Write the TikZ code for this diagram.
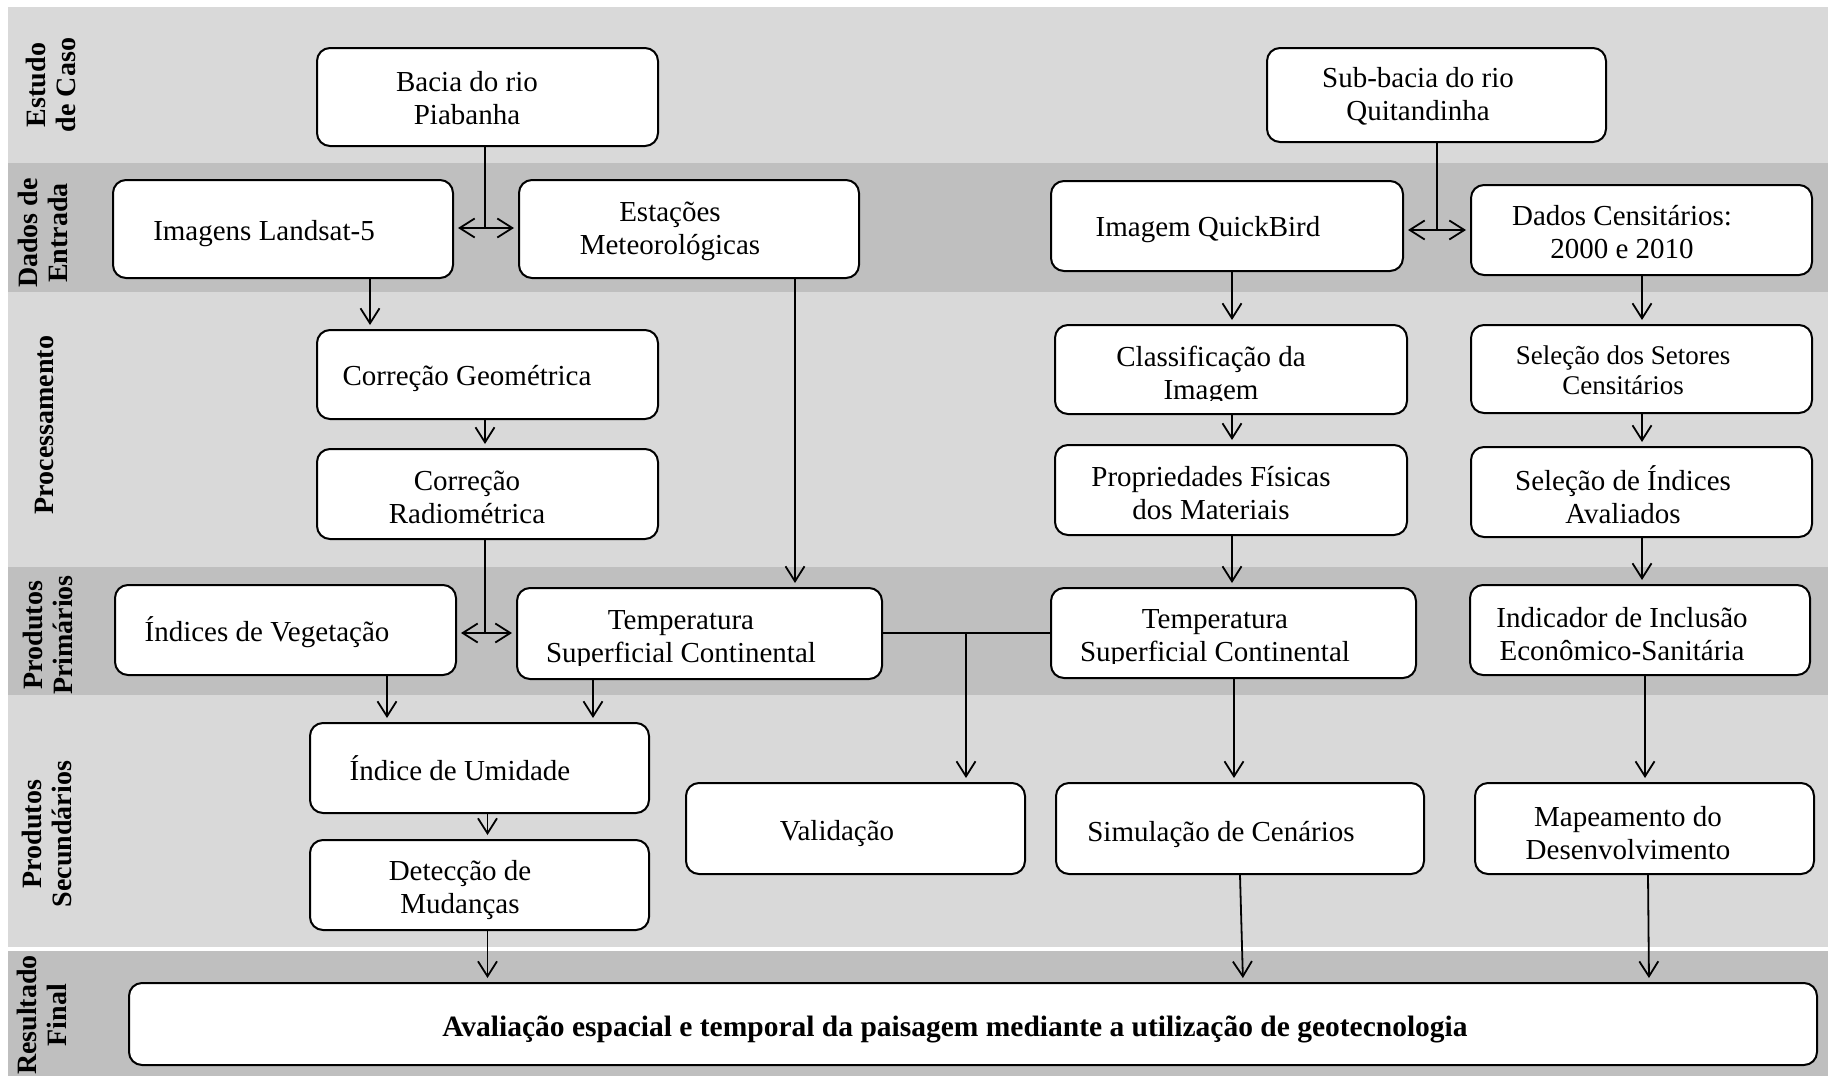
\documentclass[tikz,border=0pt]{standalone}
\usepackage{fontspec}
\setmainfont{Liberation Serif}
\usetikzlibrary{arrows.meta,fit}
\definecolor{bandlight}{HTML}{D9D9D9}
\definecolor{banddark}{HTML}{BFBFBF}
\begin{document}
\begin{tikzpicture}[x=1pt,y=-1pt,
  boxst/.style={draw, line width=2pt, rounded corners=13pt, fill=white, inner sep=0pt},
  txt/.style={align=center, font=\fontsize{29}{33}\selectfont, inner sep=0pt},
  txtsmall/.style={align=center, font=\fontsize{27}{30}\selectfont, inner sep=0pt},
  lab/.style={align=center, rotate=90, font=\fontsize{28}{30}\selectfont\bfseries, inner sep=0pt},
  conn/.style={line width=1.8pt},
  arr/.style={conn, -{Straight Barb[length=15pt,width=19pt]}, shorten >=4pt}
]
\useasboundingbox (0,0) rectangle (1828,1076);
% bands
\fill[white] (0,0) rectangle (1828,1076);
\fill[bandlight] (8,7) rectangle (1828,163);
\fill[banddark] (8,163) rectangle (1828,292);
\fill[bandlight] (8,292) rectangle (1828,567);
\fill[banddark] (8,567) rectangle (1828,695);
\fill[bandlight] (8,695) rectangle (1828,947);
\fill[banddark] (8,951) rectangle (1828,1076);

% band labels
\node[lab] (l1) at (51,85) {Estudo\\de Caso};
\node[lab] (l2) at (43,233) {Dados de\\Entrada};
\node[lab] (l3) at (44,425) {Processamento};
\node[lab] (l4) at (48,635) {Produtos\\Primários};
\node[lab] (l5) at (47,834) {Produtos\\Secundários};
\node[lab] (l6) at (42,1015) {Resultado\\Final};

% boxes
\node[boxst, fit={(317,48) (658,146)}] (bacia) {};
\node[boxst, fit={(1267,48) (1606,142)}] (subbacia) {};
\node[boxst, fit={(113,180) (453,278)}] (landsat) {};
\node[boxst, fit={(519,180) (859,278)}] (estacoes) {};
\node[boxst, fit={(1051,181) (1403,271)}] (quickbird) {};
\node[boxst, fit={(1471,185) (1812,275)}] (censo) {};
\node[boxst, fit={(317,330) (658,419)}] (corgeo) {};
\node[boxst, fit={(317,449) (658,539)}] (corrad) {};
\node[boxst, fit={(1055,325) (1407,414)}] (classif) {};
\node[boxst, fit={(1471,325) (1812,413)}] (setores) {};
\node[boxst, fit={(1055,445) (1407,535)}] (propfis) {};
\node[boxst, fit={(1471,447) (1812,537)}] (selind) {};
\node[boxst, fit={(115,585) (456,675)}] (indveg) {};
\node[boxst, fit={(517,588) (882,679)}] (temp1) {};
\node[boxst, fit={(1051,588) (1416,678)}] (temp2) {};
\node[boxst, fit={(1470,585) (1810,675)}] (indicador) {};
\node[boxst, fit={(310,723) (649,813)}] (umidade) {};
\node[boxst, fit={(310,840) (649,930)}] (deteccao) {};
\node[boxst, fit={(686,783) (1025,874)}] (validacao) {};
\node[boxst, fit={(1056,783) (1424,874)}] (simulacao) {};
\node[boxst, fit={(1475,783) (1814,874)}] (mapeamento) {};
\node[boxst, fit={(129,983) (1817,1065)}] (final) {};

% texts
\node[txt] (bacia-t) at (467,98) {Bacia do rio\\Piabanha};
\node[txt] (subbacia-t) at (1418,96) {Sub-bacia do rio\\Quitandinha};
\node[txt] (landsat-t) at (264,234) {Imagens Landsat-5};
\node[txt] (estacoes-t) at (670,231.5) {Estações\\Meteorológicas};
\node[txt] (quickbird-t) at (1208,230) {Imagem QuickBird};
\node[txt] (censo-t) at (1622,232) {Dados Censitários:\\2000 e 2010};
\node[txt] (corgeo-t) at (467,378) {Correção Geométrica};
\node[txt] (corrad-t) at (467,497) {Correção\\Radiométrica};
\begin{scope}
\clip (1060,330) rectangle (1400,400);
\node[txt] (classif-t) at (1211,375.5) {Classificação da\\Imagem};
\end{scope}
\node[txtsmall] (setores-t) at (1623,370) {Seleção dos Setores\\Censitários};
\node[txt] (propfis-t) at (1211,493) {Propriedades Físicas\\dos Materiais};
\node[txt] (selind-t) at (1623,495) {Seleção de Índices\\Avaliados};
\node[txt] (indveg-t) at (267,632) {Índices de Vegetação};
\begin{scope}
\clip (522,592) rectangle (877,665);
\node[txt] (temp1-t) at (681,640) {Temperatura\\Superficial Continental};
\end{scope}
\begin{scope}
\clip (1056,592) rectangle (1411,663);
\node[txt] (temp2-t) at (1215,638.5) {Temperatura\\Superficial Continental};
\end{scope}
\node[txt] (indicador-t) at (1622,634) {Indicador de Inclusão\\Econômico-Sanitária};
\node[txt] (umidade-t) at (460,768) {Índice de Umidade};
\node[txt] (deteccao-t) at (460,890) {Detecção de\\Mudanças};
\node[txt] (validacao-t) at (837,834) {Validação};
\node[txt] (simulacao-t) at (1221,834) {Simulação de Cenários};
\node[txt] (mapeamento-t) at (1628,833) {Mapeamento do\\Desenvolvimento};
\node[txt, font=\fontsize{29.5}{33}\selectfont\bfseries] (final-t) at (955,1029) {Avaliação espacial e temporal da paisagem mediante a utilização de geotecnologia};

% column coordinates
\coordinate (cA) at (370,0);
\coordinate (cB) at (485,0);
\coordinate (cC) at (795,0);
\coordinate (cD) at (1232,0);
\coordinate (cE) at (1642,0);
\coordinate (cG) at (1234,0);
\coordinate (cH) at (1645,0);
\coordinate (cI) at (387,0);
\coordinate (cJ) at (593,0);
\coordinate (cK) at (487.5,0);
\coordinate (cS1) at (1240,0);
\coordinate (cS2) at (1243,0);
\coordinate (cM1) at (1648,0);
\coordinate (cM2) at (1649,0);

% junctions
\coordinate (j1) at (485,228);
\coordinate (j2) at (1437,230);
\coordinate (j3) at (485,633);
\coordinate (j4) at (966,633);

% connectors
\draw[conn] (bacia.south -| j1) -- (j1);
\draw[arr] (j1) -- (landsat.east |- j1);
\draw[arr] (j1) -- (estacoes.west |- j1);

\draw[conn] (subbacia.south -| j2) -- (j2);
\draw[arr] (j2) -- (quickbird.east |- j2);
\draw[arr] (j2) -- (censo.west |- j2);

\draw[arr] (landsat.south -| cA) -- (corgeo.north -| cA);
\draw[arr] (corgeo.south -| cB) -- (corrad.north -| cB);
\draw[conn] (corrad.south -| j3) -- (j3);
\draw[arr] (j3) -- (indveg.east |- j3);
\draw[arr] (j3) -- (temp1.west |- j3);
\draw[arr] (estacoes.south -| cC) -- (temp1.north -| cC);

\draw[arr] (quickbird.south -| cD) -- (classif.north -| cD);
\draw[arr] (classif.south -| cD) -- (propfis.north -| cD);
\draw[arr] (propfis.south -| cD) -- (temp2.north -| cD);
\draw[arr] (censo.south -| cE) -- (setores.north -| cE);
\draw[arr] (setores.south -| cE) -- (selind.north -| cE);
\draw[arr] (selind.south -| cE) -- (indicador.north -| cE);

\draw[conn] (temp1.east |- j4) -- (temp2.west |- j4);
\draw[arr] (j4) -- (validacao.north -| j4);
\draw[arr] (temp2.south -| cG) -- (simulacao.north -| cG);
\draw[arr] (indicador.south -| cH) -- (mapeamento.north -| cH);

\draw[arr] (indveg.south -| cI) -- (umidade.north -| cI);
\draw[arr] (temp1.south -| cJ) -- (umidade.north -| cJ);
\draw[arr] (umidade.south -| cK) -- (deteccao.north -| cK);
\draw[arr] (deteccao.south -| cK) -- (final.north -| cK);
\draw[arr] (simulacao.south -| cS1) -- (final.north -| cS2);
\draw[arr] (mapeamento.south -| cM1) -- (final.north -| cM2);
\end{tikzpicture}
\end{document}
